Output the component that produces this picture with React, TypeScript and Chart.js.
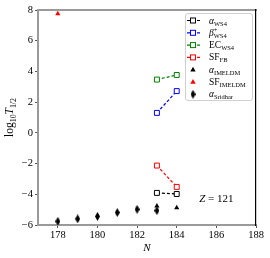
import React, { useEffect, useRef } from "react";
import { Chart, registerables } from "chart.js";

Chart.register(...registerables);

// ---- data ----
const xTickValues = [178, 180, 182, 184, 186, 188];
const N_WS4 = [183, 184];
const alphaWS4 = [-3.91, -3.98];
const betaWS4 = [1.3, 2.72];
const ecWS4 = [3.47, 3.77];
const sfFB = [-2.13, -3.52];
const N_IMELDM = [183, 184];
const alphaIMELDM = [-4.76, -4.88];
const N_SF_IMELDM = [178];
const sfIMELDM = [7.76];
const N_Sridhar = [178, 179, 180, 181, 182, 183];
const alphaSridhar = [-5.76, -5.6, -5.44, -5.19, -4.98, -5.06];
const zLabel = { x: 186, y: -4.25, text: "Z = 121" };

const FF = '"Liberation Serif", "DejaVu Serif", serif';

const pts = (xs: number[], ys: number[]) => xs.map((x, i) => ({ x, y: ys[i] }));

type Part = { t: string; it?: boolean; sub?: boolean; sup?: boolean; noAdv?: boolean };

function drawRich(ctx: CanvasRenderingContext2D, x: number, y: number, parts: Part[], size: number, align: "left" | "center") {
  const sub = size * 0.68;
  const fontOf = (p: Part) => `${p.it ? "italic " : ""}${p.sub || p.sup ? sub : size}px ${FF}`;
  let total = 0;
  for (const p of parts) {
    ctx.font = fontOf(p);
    if (!p.noAdv) total += ctx.measureText(p.t).width;
  }
  let cx = align === "center" ? x - total / 2 : x;
  ctx.textBaseline = "alphabetic";
  ctx.textAlign = "left";
  for (const p of parts) {
    ctx.font = fontOf(p);
    const dy = p.sub ? size * 0.22 : p.sup ? -size * 0.42 : 0;
    ctx.fillText(p.t, cx, y + dy);
    if (!p.noAdv) cx += ctx.measureText(p.t).width;
  }
}

export default function App() {
  const ref = useRef<HTMLCanvasElement | null>(null);

  useEffect(() => {
    if (!ref.current) return;
    const dia = document.createElement("canvas");
    dia.width = 5;
    dia.height = 9;
    const dctx = dia.getContext("2d")!;
    dctx.fillStyle = "#000";
    dctx.beginPath();
    dctx.moveTo(2.5, 0);
    dctx.lineTo(5, 4.5);
    dctx.lineTo(2.5, 9);
    dctx.lineTo(0, 4.5);
    dctx.closePath();
    dctx.fill();

    const lineDs = (label: string, data: number[], color: string) => ({
      label,
      data: pts(N_WS4, data),
      showLine: true,
      borderColor: color,
      borderWidth: 1.2,
      borderDash: [3, 2],
      pointStyle: "rect",
      pointRadius: 3.5,
      pointBorderWidth: 1,
      pointBorderColor: color,
      pointBackgroundColor: "#fff",
      backgroundColor: "#fff",
    });

    const legendRows: { color: string; kind: string; parts: Part[] }[] = [
      { color: "#000", kind: "sq", parts: [{ t: "α", it: true }, { t: "WS4", sub: true }] },
      { color: "#0000ff", kind: "sq", parts: [{ t: "β", it: true }, { t: "+", sup: true, noAdv: true }, { t: "WS4", sub: true }] },
      { color: "#008000", kind: "sq", parts: [{ t: "EC" }, { t: "WS4", sub: true }] },
      { color: "#ff0000", kind: "sq", parts: [{ t: "SF" }, { t: "FB", sub: true }] },
      { color: "#000", kind: "tri", parts: [{ t: "α", it: true }, { t: "IMELDM", sub: true }] },
      { color: "#ff0000", kind: "tri", parts: [{ t: "SF" }, { t: "IMELDM", sub: true }] },
      { color: "#000", kind: "dia", parts: [{ t: "α", it: true }, { t: "Sridhar", sub: true }] },
    ];

    const extras = {
      id: "extras",
      afterDraw(chart: any) {
        const ctx: CanvasRenderingContext2D = chart.ctx;
        const ca = chart.chartArea;
        const xs = chart.scales.x;
        const ys = chart.scales.y;
        ctx.save();
        ctx.fillStyle = "#000";
        // y title
        ctx.save();
        ctx.translate(10, (ca.top + ca.bottom) / 2);
        ctx.rotate(-Math.PI / 2);
        drawRich(ctx, 0, 3, [{ t: "log" }, { t: "10", sub: true }, { t: "T", it: true }, { t: "1/2", sub: true }], 11.5, "center");
        ctx.restore();
        // x title
        drawRich(ctx, (ca.left + ca.right) / 2, ca.bottom + 26, [{ t: "N", it: true }], 11, "center");
        // Z label
        drawRich(ctx, xs.getPixelForValue(zLabel.x), ys.getPixelForValue(zLabel.y) + 4, [{ t: "Z", it: true }, { t: " = 121" }], 11, "center");
        // legend
        const bx = ca.right - 71, by = ca.top + 3, bw = 67, bh = 87;
        ctx.beginPath();
        (ctx as any).roundRect(bx + 0.5, by + 0.5, bw, bh, 2.5);
        ctx.fillStyle = "rgba(255,255,255,0.85)";
        ctx.fill();
        ctx.strokeStyle = "#d0d0d0";
        ctx.lineWidth = 1;
        ctx.stroke();
        legendRows.forEach((r, i) => {
          const cy = by + 7.5 + i * 12.3;
          const mx = bx + 8;
          ctx.strokeStyle = r.color;
          ctx.fillStyle = r.color;
          if (r.kind === "sq") {
            ctx.setLineDash([3, 2]);
            ctx.lineWidth = 1.2;
            ctx.beginPath();
            ctx.moveTo(mx - 6, cy);
            ctx.lineTo(mx + 7, cy);
            ctx.stroke();
            ctx.setLineDash([]);
            ctx.lineWidth = 1;
            ctx.fillStyle = "#fff";
            ctx.fillRect(mx - 2.5, cy - 2.5, 5, 5);
            ctx.strokeRect(mx - 2.5, cy - 2.5, 5, 5);
          } else if (r.kind === "tri") {
            ctx.beginPath();
            ctx.moveTo(mx, cy - 3);
            ctx.lineTo(mx + 2.7, cy + 1.7);
            ctx.lineTo(mx - 2.7, cy + 1.7);
            ctx.closePath();
            ctx.fill();
          } else {
            ctx.drawImage(dia, mx - 2.5, cy - 4.5);
          }
          ctx.fillStyle = "#000";
          drawRich(ctx, bx + 24, cy + 3, r.parts, 9.5, "left");
        });
        ctx.restore();
      },
    };

    const tickFont = { family: FF, size: 10.5 };
    const chart = new Chart(ref.current, {
      type: "scatter",
      data: {
        datasets: [
          {
            label: "α Sridhar",
            data: pts(N_Sridhar, alphaSridhar),
            pointStyle: dia as any,
            pointRadius: 4,
            showLine: false,
          },
          {
            label: "α IMELDM",
            data: pts(N_IMELDM, alphaIMELDM),
            pointStyle: "triangle",
            pointRadius: 3,
            pointBackgroundColor: "#000",
            pointBorderColor: "#000",
            pointBorderWidth: 0,
            showLine: false,
          },
          {
            label: "SF IMELDM",
            data: pts(N_SF_IMELDM, sfIMELDM),
            pointStyle: "triangle",
            pointRadius: 3,
            pointBackgroundColor: "#ff0000",
            pointBorderColor: "#ff0000",
            pointBorderWidth: 0,
            showLine: false,
          },
          lineDs("α WS4", alphaWS4, "#000"),
          lineDs("β+ WS4", betaWS4, "#0000ff"),
          lineDs("EC WS4", ecWS4, "#008000"),
          lineDs("SF FB", sfFB, "#ff0000"),
        ] as any,
      },
      options: {
        animation: false,
        responsive: false,
        layout: { padding: 0 },
        plugins: { legend: { display: false }, tooltip: { enabled: false } },
        scales: {
          x: {
            type: "linear",
            position: "bottom",
            min: 177,
            max: 188,
            afterBuildTicks: (s: any) => {
              s.ticks = xTickValues.map((v) => ({ value: v }));
            },
            afterFit: (s: any) => {
              s.height = 33;
            },
            ticks: { font: tickFont, color: "#000", padding: 1, callback: (v: any) => String(v) },
            grid: { drawOnChartArea: false, tickLength: 3, color: "#555" },
            border: { color: "#9a9a9a", width: 2 },
          },
          x2: {
            type: "linear",
            position: "top",
            min: 177,
            max: 188,
            afterFit: (s: any) => {
              s.height = 10;
            },
            ticks: { display: false },
            grid: { drawOnChartArea: false, drawTicks: false },
            border: { color: "#9a9a9a", width: 2 },
          },
          y: {
            type: "linear",
            position: "left",
            min: -6,
            max: 8,
            afterFit: (s: any) => {
              s.width = 38;
            },
            ticks: {
              stepSize: 2,
              font: tickFont,
              color: "#000",
              padding: 2,
              callback: (v: any) => String(v).replace("-", "−"),
            },
            grid: { drawOnChartArea: false, tickLength: 3, color: "#555" },
            border: { color: "#9a9a9a", width: 2 },
          },
          y2: {
            type: "linear",
            position: "right",
            min: -6,
            max: 8,
            afterFit: (s: any) => {
              s.width = 14;
            },
            ticks: { display: false },
            grid: { drawOnChartArea: false, drawTicks: false },
            border: { color: "#000", width: 1.2 },
          },
        },
      } as any,
      plugins: [extras],
    });
    return () => chart.destroy();
  }, []);

  return (
    <div style={{ position: "absolute", left: 0, top: 0, width: 270, height: 258, background: "#fff" }}>
      <canvas ref={ref} width={270} height={258} style={{ display: "block" }} />
    </div>
  );
}
